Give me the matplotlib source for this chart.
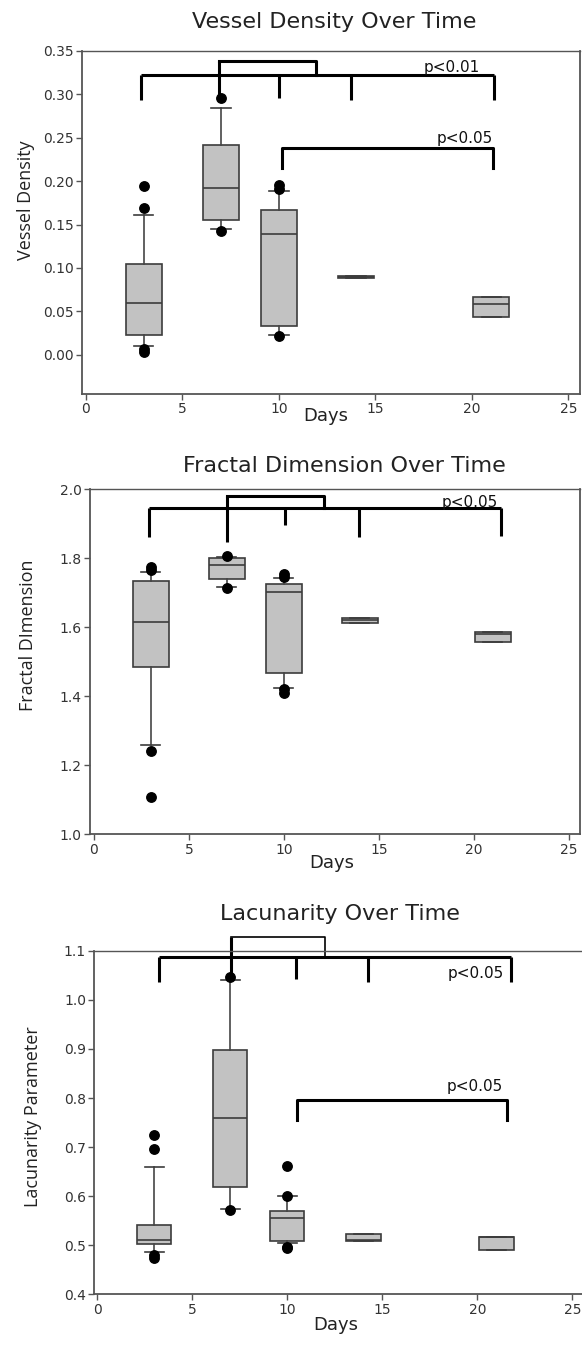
import numpy as np
import matplotlib.pyplot as plt

days = [3, 7, 10, 14, 21]

# vessel density (box stats)
vd_q1 = [0.023, 0.155, 0.033, 0.0885, 0.043]
vd_med = [0.060, 0.192, 0.139, 0.0895, 0.058]
vd_q3 = [0.105, 0.241, 0.167, 0.0905, 0.067]
vd_lo = [0.010, 0.145, 0.023, 0.0885, 0.043]
vd_hi = [0.161, 0.284, 0.188, 0.0905, 0.067]
vd_out = [[0.194, 0.169, 0.007, 0.003], [0.295, 0.143], [0.195, 0.191, 0.022], [], []]

# fractal dimension
fd_q1 = [1.484, 1.739, 1.466, 1.611, 1.556]
fd_med = [1.615, 1.780, 1.701, 1.622, 1.579]
fd_q3 = [1.734, 1.799, 1.724, 1.626, 1.587]
fd_lo = [1.259, 1.717, 1.423, 1.611, 1.556]
fd_hi = [1.760, 1.803, 1.741, 1.626, 1.587]
fd_out = [[1.775, 1.765, 1.241, 1.109], [1.807, 1.714], [1.753, 1.746, 1.420, 1.410], [], []]

# lacunarity
lac_q1 = [0.502, 0.618, 0.508, 0.509, 0.490]
lac_med = [0.511, 0.759, 0.555, 0.510, 0.5165]
lac_q3 = [0.541, 0.898, 0.570, 0.523, 0.518]
lac_lo = [0.487, 0.574, 0.505, 0.509, 0.490]
lac_hi = [0.660, 1.040, 0.601, 0.523, 0.518]
lac_out = [[0.725, 0.696, 0.480, 0.475], [1.047, 0.573], [0.662, 0.601, 0.497, 0.495], [], []]

# significance brackets
vd_comb_x = [2.85, 6.9, 10.0, 13.73, 21.13]
vd_comb_y = 0.322
vd_comb_end = [0.293, 0.293, 0.295, 0.293, 0.293]
vd_top_x = [6.9, 11.9]
vd_top_y = 0.338
vd_pair_x = [10.17, 21.08]
vd_pair_y = 0.238
vd_pair_end = 0.215
vd_labels = [("p<0.01", 18.97, 0.3255), ("p<0.05", 19.65, 0.2438)]

fd_comb_x = [2.87, 7.01, 10.06, 13.93, 21.43]
fd_comb_y = 1.945
fd_comb_end = [1.862, 1.847, 1.896, 1.862, 1.865]
fd_top_x = [7.01, 12.09]
fd_top_y = 1.979
fd_labels = [("p<0.05", 19.77, 1.947)]

lac_comb_x = [3.22, 7.03, 10.47, 14.22, 21.74]
lac_comb_y = 1.0874
lac_comb_end = [1.0365, 1.044, 1.0414, 1.0365, 1.0365]
lac_top_x = [7.03, 11.97]
lac_top_y = 1.1285
lac_pair_x = [10.51, 21.55]
lac_pair_y = 0.7958
lac_pair_end = 0.7551
lac_labels = [("p<0.05", 19.93, 1.044), ("p<0.05", 19.86, 0.8146)]

plt.rcParams['font.family'] = 'DejaVu Sans'
edge = '#3c3c3c'
spine_col = '#555555'


def make_stats(q1, med, q3, lo, hi, out):
    stats = []
    for i in range(len(q1)):
        stats.append(dict(q1=q1[i], med=med[i], q3=q3[i], whislo=lo[i], whishi=hi[i], fliers=out[i]))
    return stats


def draw_box(ax, stats, width):
    ax.bxp(stats, positions=days, widths=width, capwidths=1.0, patch_artist=True,
           manage_ticks=False,
           boxprops=dict(facecolor='#c2c2c2', edgecolor=edge, linewidth=1.2),
           medianprops=dict(color=edge, linewidth=1.2),
           whiskerprops=dict(color='#454545', linewidth=1.2),
           capprops=dict(color=edge, linewidth=1.2),
           flierprops=dict(marker='o', markerfacecolor='black', markeredgecolor='black',
                           markersize=6.8))


def comb(ax, xs, bar_y, ends, top_x, top_y, top_lw=2.2):
    kw = dict(color='black', linewidth=2.2, clip_on=False, solid_capstyle='butt')
    ax.plot([xs[0], xs[-1]], [bar_y, bar_y], **kw)
    for x, e in zip(xs, ends):
        ax.plot([x, x], [bar_y, e], **kw)
    # upper bracket joining day 7 with the rest
    ax.plot([top_x[0], top_x[0]], [bar_y, top_y], **kw)
    ax.plot([top_x[0], top_x[1], top_x[1]], [top_y, top_y, bar_y],
            color='black', linewidth=top_lw, clip_on=False)


def pair(ax, xs, bar_y, end):
    ax.plot([xs[0], xs[0], xs[1], xs[1]], [end, bar_y, bar_y, end],
            color='black', linewidth=2.2, clip_on=False)


def style(ax, xlim, ylim, yticks, fmt, right=True):
    ax.set_xlim(xlim)
    ax.set_ylim(ylim)
    ax.set_xticks([0, 5, 10, 15, 20, 25])
    ax.set_yticks(yticks)
    ax.set_yticklabels([fmt.format(v) for v in yticks])
    for s in ax.spines.values():
        s.set_color(spine_col)
        s.set_linewidth(1.3)
    ax.spines['right'].set_visible(right)
    ax.spines['top'].set_linewidth(1.0)
    ax.tick_params(length=4, width=1.0, color=spine_col, labelsize=10,
                   labelcolor='#333333', pad=2)


def labels(ax, title, tpos, ylabel, ypos, xpos):
    ax.set_title(title, x=tpos[0], y=tpos[1], pad=0, va='baseline', fontsize=16,
                 color='#222222')
    ax.set_ylabel(ylabel, fontsize=13, family='Open Sans', color='#222222',
                  va='center', ha='center')
    ax.yaxis.set_label_coords(ypos[0], ypos[1])
    ax.set_xlabel('Days', fontsize=13, color='#222222', va='center', ha='center')
    ax.xaxis.set_label_coords(xpos[0], xpos[1])


def p_text(ax, items):
    for txt, x, y in items:
        ax.text(x, y, txt, ha='center', va='baseline', fontsize=11, color='#111111')


fig = plt.figure(figsize=(5.82, 13.45), dpi=100)

# Vessel density
ax1 = fig.add_axes([0.1404, 0.7071, 0.856, 0.2552])
draw_box(ax1, make_stats(vd_q1, vd_med, vd_q3, vd_lo, vd_hi, vd_out), 1.85)
comb(ax1, vd_comb_x, vd_comb_y, vd_comb_end, vd_top_x, vd_top_y)
pair(ax1, vd_pair_x, vd_pair_y, vd_pair_end)
p_text(ax1, vd_labels)
style(ax1, (-0.22, 25.6), (-0.045, 0.35), np.arange(0, 0.351, 0.05), '{:.2f}')
labels(ax1, 'Vessel Density Over Time', (0.506, 1.065), 'Vessel Density',
       (-0.112, 0.565), (0.49, -0.064))

# Fractal dimension
ax2 = fig.add_axes([0.1546, 0.3797, 0.842, 0.2567])
draw_box(ax2, make_stats(fd_q1, fd_med, fd_q3, fd_lo, fd_hi, fd_out), 1.85)
comb(ax2, fd_comb_x, fd_comb_y, fd_comb_end, fd_top_x, fd_top_y)
p_text(ax2, fd_labels)
style(ax2, (-0.21, 25.58), (1.0, 2.0), np.arange(1.0, 2.01, 0.2), '{:.1f}')
labels(ax2, 'Fractal Dimension Over Time', (0.52, 1.049), 'Fractal DImension',
       (-0.1265, 0.577), (0.494, -0.082))

# Lacunarity
ax3 = fig.add_axes([0.162, 0.03755, 0.838, 0.2556])
draw_box(ax3, make_stats(lac_q1, lac_med, lac_q3, lac_lo, lac_hi, lac_out), 1.8)
comb(ax3, lac_comb_x, lac_comb_y, lac_comb_end, lac_top_x, lac_top_y, top_lw=1.2)
pair(ax3, lac_pair_x, lac_pair_y, lac_pair_end)
p_text(ax3, lac_labels)
style(ax3, (-0.16, 25.5), (0.4, 1.1), np.arange(0.4, 1.101, 0.1), '{:.1f}', right=False)
labels(ax3, 'Lacunarity Over Time', (0.503, 1.089), 'Lacunarity Parameter',
       (-0.1257, 0.516), (0.4956, -0.089))

fig.savefig('out.png', dpi=100)
